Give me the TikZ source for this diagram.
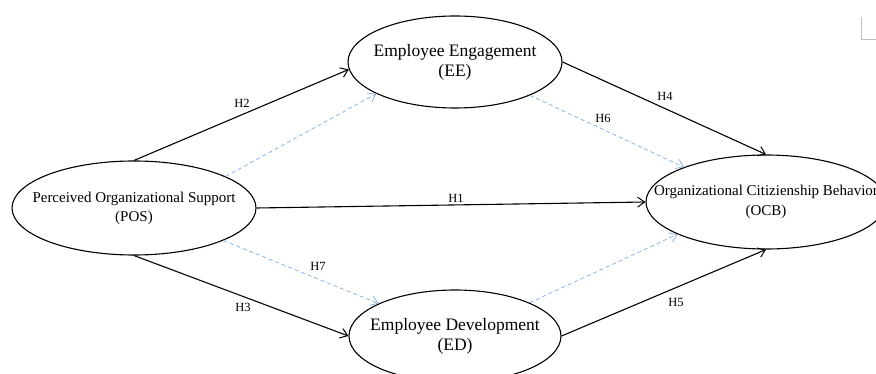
\documentclass[tikz,border=0pt]{standalone}
\usepackage{fontspec}
\setmainfont{Liberation Serif}
\usetikzlibrary{shapes.geometric,arrows.meta}
% a line of text that takes no width, so the ellipse keeps its own size
\newcommand{\flatline}[1]{\makebox[0pt]{#1}}
\begin{document}
\begin{tikzpicture}[x=1pt,y=-1pt,
  construct/.style={ellipse,draw,line width=1.1pt,inner sep=0pt,align=center},
  path/.style={line width=1.1pt,-{Straight Barb[length=7pt,width=10pt,line width=1pt]}},
  mediated/.style={dashed,dash pattern=on 4pt off 3pt,line width=0.8pt,color=medblue,
    -{Straight Barb[length=7pt,width=10pt,line width=0.8pt]}},
  hlabel/.style={font=\fontsize{12.5}{14}\selectfont,inner sep=1pt}]
\definecolor{medblue}{RGB}{141,180,226}
\useasboundingbox (0,0) rectangle (876,374);
\fill[white] (0,0) rectangle (876,374);

% constructs
\node[construct,minimum width=244pt,minimum height=94pt,font=\fontsize{15}{19}\selectfont]
  (pos) at (134,208) {\flatline{Perceived Organizational Support}\\\flatline{(POS)}};
\node[construct,minimum width=214pt,minimum height=92pt,font=\fontsize{17.5}{20}\selectfont]
  (ee) at (455,62) {\flatline{Employee Engagement}\\\flatline{(EE)}};
\node[construct,minimum width=212pt,minimum height=92pt,font=\fontsize{17.5}{20}\selectfont]
  (ed) at (455,336) {\flatline{Employee Development}\\\flatline{(ED)}};
\node[construct,minimum width=240pt,minimum height=94pt,font=\fontsize{15}{20}\selectfont]
  (ocb) at (766,202) {\flatline{Organizational Citizienship Behavior}\\\flatline{(OCB)}};

% direct paths
\draw[path] (pos.north) -- (ee.184);
\draw[path] (pos.east) -- (ocb.west);
\draw[path] (pos.south) -- (ed.west);
\draw[path] (ee.east) -- (ocb.north);
\draw[path] (ed.east) -- (ocb.south);

% mediated paths
\draw[mediated] (pos.19) -- (ee.202);
\draw[mediated] (pos.340) -- (ed.157);
\draw[mediated] (ee.336) -- (ocb.157);
\draw[mediated] (ed.24) -- (ocb.200);

% hypothesis labels
\node[hlabel] (h1) at (456,198) {H1};
\node[hlabel] (h2) at (242,103) {H2};
\node[hlabel] (h3) at (243,307) {H3};
\node[hlabel] (h4) at (665,96) {H4};
\node[hlabel] (h5) at (676,302) {H5};
\node[hlabel] (h6) at (603,118) {H6};
\node[hlabel] (h7) at (318,266) {H7};

% text boundary mark
\draw[black!25,line width=0.8pt] (861,17) -- (861,39) -- (876,39);
\end{tikzpicture}
\end{document}
